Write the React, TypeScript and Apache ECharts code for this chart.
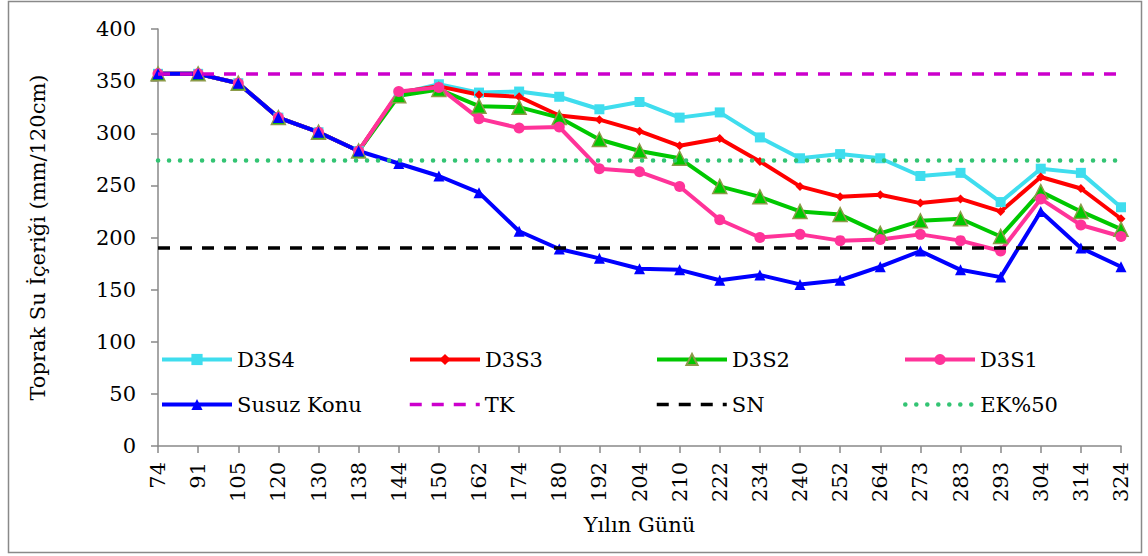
import React, { useEffect, useRef } from "react";
import * as echarts from "echarts";

const categories = ["74","91","105","120","130","138","144","150","162","174","180","192","204","210","222","234","240","252","264","273","283","293","304","314","324"];
const d3s4 = [357,357,348,315,301,283,338,347,339,340,335,323,330,315,320,296,276,280,276,259,262,234,266,262,229];
const d3s3 = [357,357,348,315,301,283,339,345,337,335,317,313,302,288,295,273,249,239,241,233,237,225,258,247,218];
const d3s2 = [357,357,348,315,301,283,336,342,326,325,315,294,283,276,249,239,225,222,204,216,218,201,244,225,208];
const d3s1 = [357,357,348,315,301,283,340,344,314,305,306,266,263,249,217,200,203,197,198,203,197,187,237,212,201];
const susuz = [357,357,348,315,301,283,271,259,243,206,189,180,170,169,159,164,155,159,172,187,169,162,225,190,172];
const TK = 357;
const SN = 190;
const EK50 = 274;
const yTicks = { min: 0, max: 400, interval: 50 };

const FONT = "DejaVu Serif";

export default function App() {
  const ref = useRef<HTMLDivElement>(null);
  useEffect(() => {
    if (!ref.current) return;
    const chart = echarts.init(ref.current, null, { renderer: "svg" });
    const lineSeries = (name: string, data: number[], color: string, symbol: string, size: number, extra: any = {}) => ({
      name,
      type: "line",
      data,
      symbol,
      symbolSize: size,
      lineStyle: { color, width: 4 },
      itemStyle: { color, ...(extra.itemStyle || {}) },
      emphasis: { disabled: true },
    });
    const refSeries = (name: string, value: number, color: string, type: any, width: number, cap: string) => ({
      name,
      type: "line",
      data: [],
      symbol: "none",
      lineStyle: { color, width, type, cap },
      itemStyle: { color },
      markLine: {
        silent: true,
        symbol: ["none", "none"],
        label: { show: false },
        lineStyle: { color, width, type, cap },
        emphasis: { disabled: true },
        data: [{ yAxis: value }],
      },
    });
    const legendNames: [string, number, number, boolean, number][] = [
      ["D3S4", 160, 349, false, 4], ["D3S3", 408, 349, false, 4], ["D3S2", 655, 349, false, 4], ["D3S1", 903, 349, false, 4],
      ["Susuz Konu", 160, 394, false, 4], ["TK", 408, 394, true, 3.5], ["SN", 655, 394, true, 3.5], ["EK%50", 903, 394, true, 4.5],
    ];
    chart.setOption({
      animation: false,
      backgroundColor: "#ffffff",
      textStyle: { fontFamily: FONT },
      grid: { left: 158, right: 27, top: 29, bottom: 110 },
      legend: legendNames.map(([n, l, t, plain, w]) => ({
        data: [n],
        left: l,
        top: t,
        padding: 0,
        itemWidth: 70,
        itemHeight: 14,
        itemGap: 0,
        selectedMode: false,
        lineStyle: { width: w },
        ...(plain ? { itemStyle: { color: "rgba(0,0,0,0)", borderColor: "rgba(0,0,0,0)", borderWidth: 0 } } : {}),
        textStyle: { fontFamily: FONT, fontSize: 21, color: "#000" },
      })),
      xAxis: {
        type: "category",
        data: categories,
        boundaryGap: false,
        name: "Yılın Günü",
        nameLocation: "middle",
        nameGap: 68,
        nameTextStyle: { fontFamily: FONT, fontSize: 21, color: "#000" },
        axisLine: { lineStyle: { color: "#898989", width: 1.5 } },
        axisTick: { show: true, length: 7, lineStyle: { color: "#898989", width: 1.5 } },
        axisLabel: { rotate: 90, margin: 16, fontFamily: FONT, fontSize: 21, color: "#000", interval: 0 },
        splitLine: { show: false },
      },
      yAxis: {
        type: "value",
        min: yTicks.min,
        max: yTicks.max,
        interval: yTicks.interval,
        name: "Toprak Su İçeriği (mm/120cm)",
        nameLocation: "middle",
        nameRotate: 90,
        nameGap: 110,
        nameTextStyle: { fontFamily: FONT, fontSize: 21, color: "#000" },
        axisLine: { show: true, lineStyle: { color: "#898989", width: 1.5 } },
        axisTick: { show: true, length: 7, lineStyle: { color: "#898989", width: 1.5 } },
        axisLabel: { margin: 22, fontFamily: FONT, fontSize: 21, color: "#000" },
        splitLine: { show: false },
      },
      graphic: [
        {
          type: "rect",
          shape: { x: 8.5, y: 1.5, width: 1133, height: 551 },
          style: { fill: "none", stroke: "#898989", lineWidth: 1.5 },
          silent: true,
          z: -1,
        },
      ],
      series: [
        lineSeries("D3S4", d3s4, "#3FDDEE", "rect", 10),
        lineSeries("D3S3", d3s3, "#FF0000", "diamond", 9),
        lineSeries("D3S2", d3s2, "#00C800", "triangle", 14, { itemStyle: { borderColor: "#8C9A48", borderWidth: 1.5 } }),
        lineSeries("D3S1", d3s1, "#FF3399", "circle", 11),
        lineSeries("Susuz Konu", susuz, "#0000FF", "triangle", 11),
        refSeries("TK", TK, "#CC00CC", [12, 10], 3.5, "butt"),
        refSeries("SN", SN, "#000000", [12, 10], 3.5, "butt"),
        refSeries("EK%50", EK50, "#33C473", [0.1, 10.9], 4.5, "round"),
      ],
    });
    return () => chart.dispose();
  }, []);
  return <div ref={ref} style={{ position: "absolute", left: 0, top: 0, width: 1148, height: 556 }} />;
}
